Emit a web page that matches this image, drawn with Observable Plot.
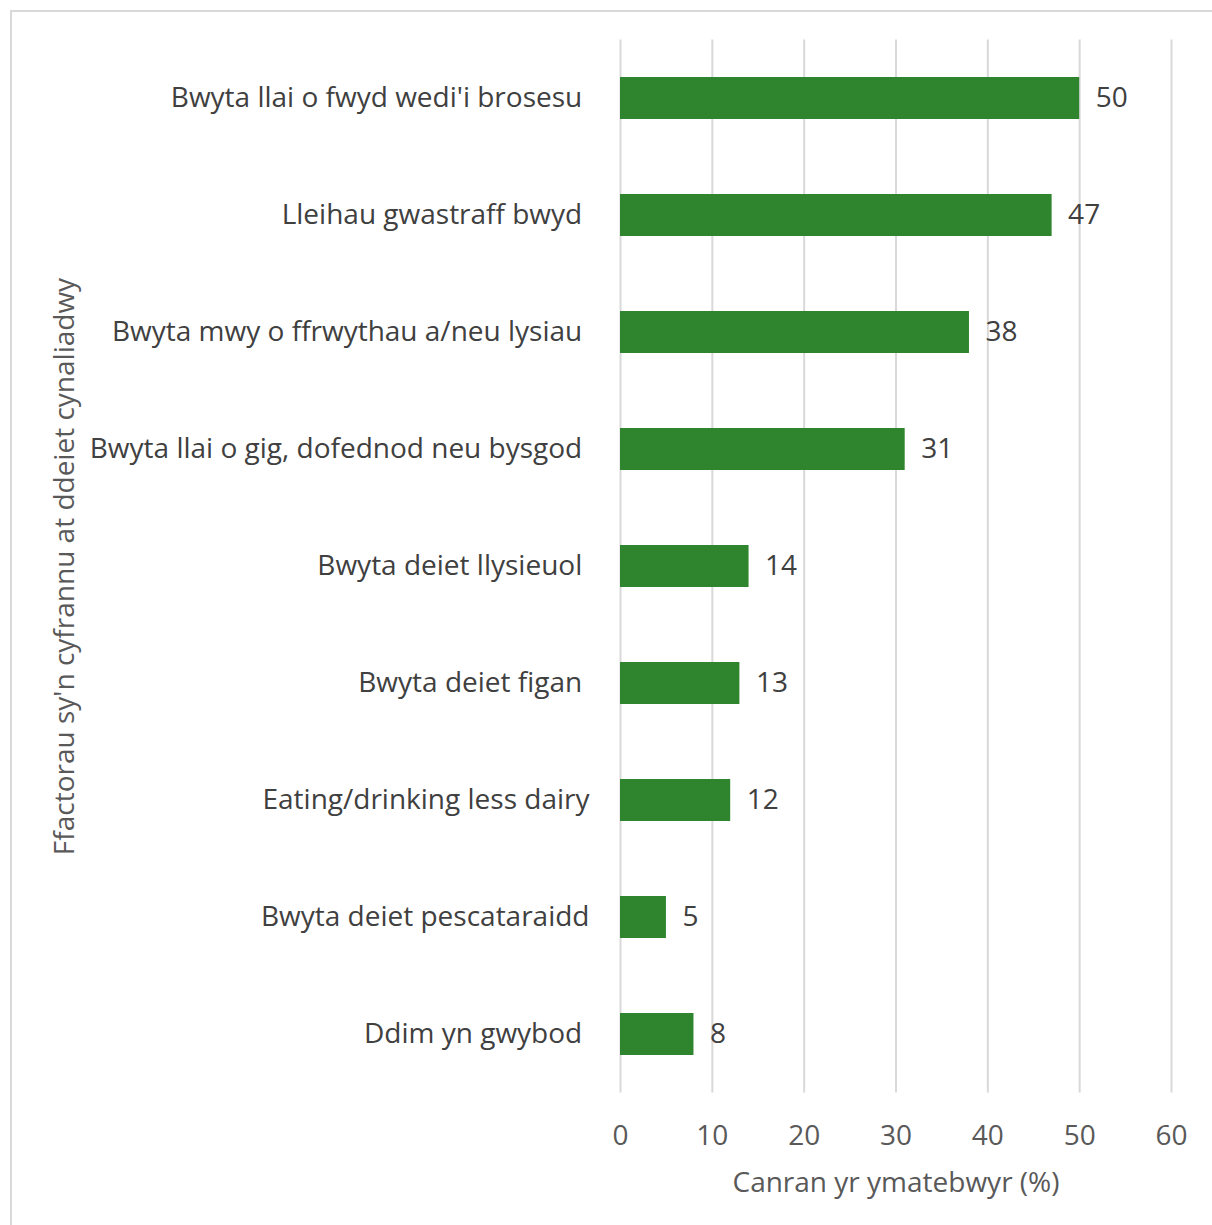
<!DOCTYPE html>
<html>
<head>
<meta charset="utf-8">
<script src="https://cdn.jsdelivr.net/npm/d3@7"></script>
<script src="https://cdn.jsdelivr.net/npm/@observablehq/plot@0.6"></script>
<style>
  body { margin: 0; background: #fff; }
  #wrap { position: relative; width: 1212px; height: 1225px; overflow: hidden; }
  #frame { position: absolute; left: 10px; top: 10px; width: 1220px; height: 1230px; border: 2px solid #d9d9d9; box-sizing: border-box; }
  #chart { position: absolute; left: 0; top: 0; }
</style>
</head>
<body>
<div id="wrap"><div id="frame"></div><div id="chart"></div></div>
<script>
const categories = [
  "Bwyta llai o fwyd wedi'i brosesu",
  "Lleihau gwastraff bwyd",
  "Bwyta mwy o ffrwythau a/neu lysiau",
  "Bwyta llai o gig, dofednod neu bysgod",
  "Bwyta deiet llysieuol",
  "Bwyta deiet figan",
  "Eating/drinking less dairy",
  "Bwyta deiet pescataraidd",
  "Ddim yn gwybod"
];
const values = [50, 47, 38, 31, 14, 13, 12, 5, 8];
const xTicks = [0, 10, 20, 30, 40, 50, 60];
const xTitle = "Canran yr ymatebwyr (%)";
const yTitle = "Ffactorau sy'n cyfrannu at ddeiet cynaliadwy";
// labels that have no trailing space in the original chart (they sit further right)
const noTrailingSpace = ["Eating/drinking less dairy", "Bwyta deiet pescataraidd"];

const data = categories.map((c, i) => ({category: c, value: values[i]}));
const font = "'Open Sans', Lato, sans-serif";
const fs = 28;

const chart = Plot.plot({
  width: 1212,
  height: 1225,
  marginLeft: 620,
  marginRight: 41,
  marginTop: 39.5,
  marginBottom: 132.5,
  style: {fontFamily: font, fontSize: fs + "px", color: "#595959", background: "transparent"},
  x: {domain: [0, 60], ticks: xTicks, label: null},
  y: {domain: categories, paddingInner: 0.64, paddingOuter: 0.32, label: null},
  marks: [
    Plot.gridX(xTicks, {stroke: "#d9d9d9", strokeWidth: 2, strokeOpacity: 1}),
    Plot.barX(data, {x: "value", y: "category", fill: "#2f852d"}),
    Plot.text(data, {x: "value", y: "category", text: d => String(d.value), textAnchor: "start", dx: 16, fill: "#404040", fontSize: fs}),
    Plot.axisX(xTicks, {tickSize: 0, tickPadding: 32, fill: "#595959", fontSize: fs, label: null}),
    Plot.axisY({tickSize: 0, tickPadding: 31, fill: "#404040", fontSize: fs, label: null,
      tickFormat: d => noTrailingSpace.includes(d) ? d : d + "\u00a0"}),
    Plot.text([xTitle], {frameAnchor: "bottom", dy: 99, fill: "#595959", fontSize: fs}),
    Plot.text([yTitle], {frameAnchor: "left", textAnchor: "middle", dx: -555, rotate: -90, fill: "#595959", fontSize: fs})
  ]
});
document.getElementById("chart").appendChild(chart);
</script>
</body>
</html>
